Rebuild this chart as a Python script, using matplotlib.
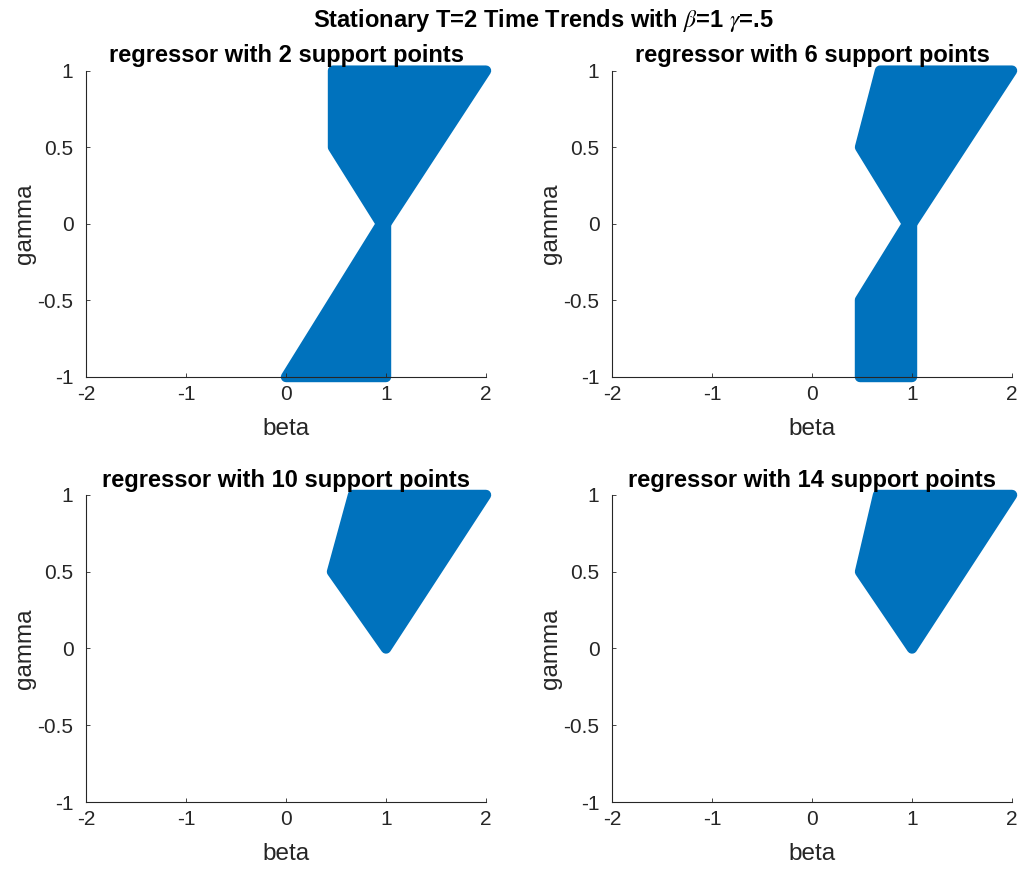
import matplotlib
matplotlib.use("Agg")
from matplotlib import pyplot as plt

plt.rcParams['font.family'] = ['Liberation Sans', 'DejaVu Sans']
plt.rcParams['mathtext.fontset'] = 'stix'
plt.rcParams['axes.unicode_minus'] = False

# identified set vertices (beta, gamma)
support_points = [2, 6, 10, 14]

beta_2_upper = [0.47, 2.0, 1.0, 0.95, 0.47]
gamma_2_upper = [1.0, 1.0, 0.0, 0.0, 0.5]
beta_2_lower = [0.95, 1.0, 1.0, 0.0]
gamma_2_lower = [0.0, 0.0, -1.0, -1.0]

beta_6_upper = [0.68, 2.0, 1.0, 0.95, 0.48]
gamma_6_upper = [1.0, 1.0, 0.0, 0.0, 0.5]
beta_6_lower = [0.95, 1.0, 1.0, 0.48, 0.48]
gamma_6_lower = [0.0, 0.0, -1.0, -1.0, -0.5]

beta_10 = [0.67, 2.0, 1.0, 0.46]
gamma_10 = [1.0, 1.0, 0.0, 0.5]

beta_14 = [0.66, 2.0, 1.0, 0.48]
gamma_14 = [1.0, 1.0, 0.0, 0.5]

x_ticks = [-2, -1, 0, 1, 2]
y_ticks = [-1, -0.5, 0, 0.5, 1]
y_ticklabels = ['-1', '-0.5', '0', '0.5', '1']

pieces = [
    [(beta_2_upper, gamma_2_upper), (beta_2_lower, gamma_2_lower)],
    [(beta_6_upper, gamma_6_upper), (beta_6_lower, gamma_6_lower)],
    [(beta_10, gamma_10)],
    [(beta_14, gamma_14)],
]

blue = '#0072BD'
grey = '#262626'

fig = plt.figure(figsize=(10.2, 8.69), dpi=100)
positions = [
    [0.0843, 0.5662, 0.3922, 0.3525],
    [0.6000, 0.5662, 0.3922, 0.3525],
    [0.0843, 0.0771, 0.3922, 0.3533],
    [0.6000, 0.0771, 0.3922, 0.3533],
]

for pos, n, shapes in zip(positions, support_points, pieces):
    ax = fig.add_axes(pos)
    for b, g in shapes:
        # scatter of many points -> filled region with round marker edge
        ax.fill(b, g, facecolor=blue, edgecolor=blue, lw=7.5,
                joinstyle='round', clip_on=False)
    ax.set_xlim(-2, 2)
    ax.set_ylim(-1, 1)
    ax.set_xticks(x_ticks)
    ax.set_yticks(y_ticks)
    ax.set_yticklabels(y_ticklabels)
    ax.spines['top'].set_visible(False)
    ax.spines['right'].set_visible(False)
    for s in ['left', 'bottom']:
        ax.spines[s].set_color(grey)
        ax.spines[s].set_linewidth(0.8)
    ax.tick_params(direction='in', length=3, width=0.6, colors=grey,
                   labelsize=15)
    ax.tick_params(axis='y', pad=9)
    ax.tick_params(axis='x', pad=6)
    ax.set_xlabel('beta', fontsize=17.5, color=grey, labelpad=10)
    ax.set_ylabel('gamma', fontsize=17.5, color=grey, labelpad=1)
    ax.set_title('regressor with {} support points'.format(n),
                 fontsize=17, fontweight='bold', pad=6)

fig.suptitle(r'Stationary T=2 Time Trends with $\beta$=1 $\gamma$=.5',
             fontsize=17, fontweight='bold', x=0.533, y=0.992)

fig.savefig('out.png', dpi=100)
